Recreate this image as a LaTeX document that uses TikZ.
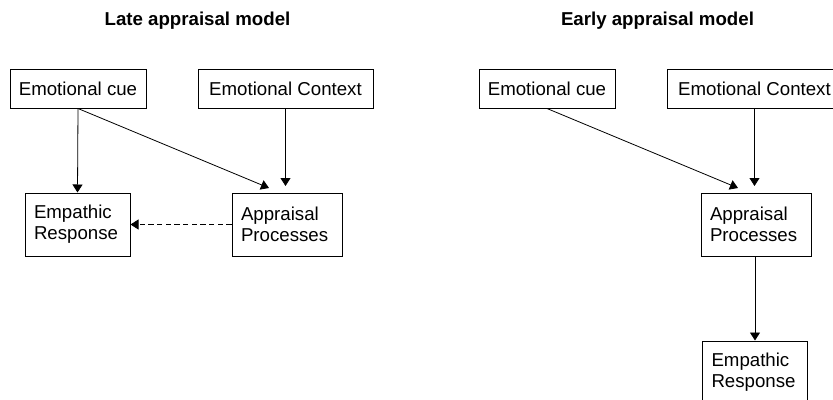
\documentclass[tikz,border=0pt]{standalone}
\usepackage{fontspec}
\setmainfont{Liberation Sans}
\usetikzlibrary{arrows.meta}

\begin{document}
\begin{tikzpicture}[
    x=0.75pt, y=-0.75pt,
    box_single/.style={draw, line width=0.75pt, font=\fontsize{14}{15.75}\selectfont,
      minimum height=29.25pt, inner sep=0pt},
    box_double/.style={draw, line width=0.75pt, font=\fontsize{14}{15.75}\selectfont,
      align=left, minimum height=47.25pt, inner xsep=6.75pt, inner ysep=0pt},
    title_format/.style={font=\fontsize{14}{16}\selectfont\bfseries, anchor=base},
    arrow_line/.style={-{Triangle[length=6pt, width=7.5pt]}, line width=0.6pt},
    ]

    % --- Frame ---
    \useasboundingbox (0,0) rectangle (833,400);
    \clip (0,0) rectangle (833,400);

    % --- Titles ---
    \node[title_format] (late_title) at (197.5,25) {Late appraisal model};
    \node[title_format] (early_title) at (657.5,25) {Early appraisal model};

    % --- Late appraisal model (left) ---
    \node[box_single, minimum width=102pt] (late_cue) at (78,88.5) {Emotional cue};
    \node[box_single, minimum width=131.25pt] (late_ctx) at (285.5,88.5) {Emotional Context};
    \node[box_double, text width=65.25pt] (late_emp) at (77.5,224.5) {Empathic\\Response};
    \node[box_double, text width=69pt] (late_app) at (287,224.5) {Appraisal\\Processes};

    \coordinate (late_tip_a) at (269,188);
    \coordinate (late_tip_b) at (285.5,186);

    \draw[arrow_line] (late_cue.south) -- (late_emp.north);
    \draw[arrow_line] (late_cue.south) -- (late_tip_a);
    \draw[arrow_line] (late_ctx.south) -- (late_tip_b);
    \draw[arrow_line, dash pattern=on 4pt off 2.5pt] (late_app.west) -- (late_emp.east);

    % --- Early appraisal model (right) ---
    \node[box_single, minimum width=102pt] (early_cue) at (547,88.5) {Emotional cue};
    \node[box_single, minimum width=131.25pt] (early_ctx) at (754.5,88.5) {Emotional Context};
    \node[box_double, text width=69pt] (early_app) at (756,224.5) {Appraisal\\Processes};
    \node[box_double, text width=65.25pt] (early_emp) at (755,372.5) {Empathic\\Response};

    \coordinate (early_tip_a) at (738,188);
    \coordinate (early_tip_b) at (754.5,186);

    \draw[arrow_line] (early_cue.south) -- (early_tip_a);
    \draw[arrow_line] (early_ctx.south) -- (early_tip_b);
    \draw[arrow_line] (early_emp.north |- early_app.south) -- (early_emp.north);

\end{tikzpicture}
\end{document}
